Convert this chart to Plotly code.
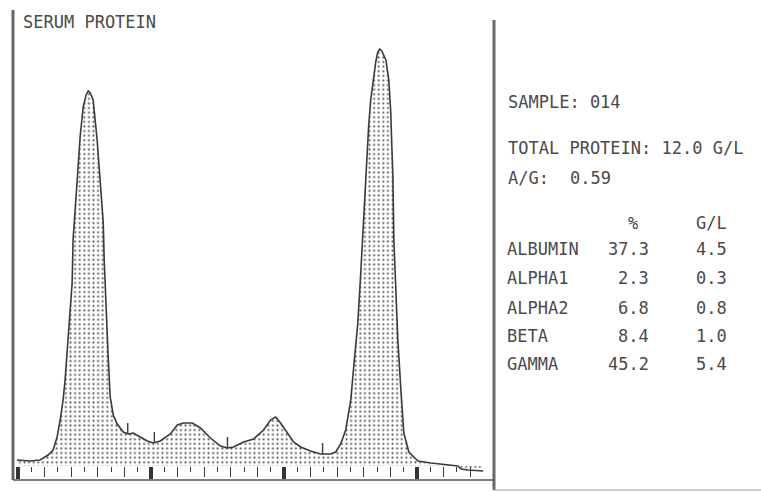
import plotly.graph_objects as go

# Densitometer trace of a serum protein electrophoresis strip.
# mobility: position along the strip in ruler divisions; density: scan height (arbitrary units)
mobility = [-0.08, 0.90, 1.66, 1.88, 2.26, 2.64, 2.94, 3.17, 3.39, 3.54, 3.77, 3.92,
            4.07, 4.14, 4.30, 4.45, 4.67, 4.90, 5.12, 5.28, 5.43, 5.65, 5.95, 6.18,
            6.41, 6.48, 6.56, 6.71, 6.78, 6.93, 7.16, 7.46, 7.91, 8.29, 8.67, 9.19,
            9.72, 10.17, 10.70, 11.45, 11.98, 12.43, 13.11, 13.72, 14.47, 15.22, 15.75,
            16.20, 16.96, 17.71, 18.46, 18.99, 19.37, 19.74, 20.27, 20.72, 21.25, 22.00,
            22.76, 23.51, 23.89, 24.26, 24.64, 25.02, 25.24, 25.55, 25.77, 25.92, 26.07,
            26.22, 26.37, 26.52, 26.68, 26.90, 27.05, 27.20, 27.35, 27.66, 27.88, 28.03,
            28.11, 28.19, 28.26, 28.41, 28.56, 28.79, 29.01, 29.39, 30.07, 31.05, 32.33,
            33.08, 33.31, 33.84, 34.97]
density = [6, 5, 6, 8, 11, 16, 29, 46, 66, 86, 126, 156,
           183, 226, 261, 286, 329, 359, 371, 375, 373, 366, 326, 286,
           243, 206, 176, 136, 109, 69, 51, 42, 34, 32, 33, 29,
           25, 23, 25, 32, 41, 43, 43, 38, 28, 20, 18,
           19, 24, 27, 36, 46, 49, 43, 33, 24, 19, 15,
           12, 12, 14, 22, 36, 66, 99, 143, 193, 231, 271,
           306, 341, 366, 384, 404, 414, 417, 415, 406, 386, 353,
           319, 289, 226, 176, 126, 76, 33, 14, 5, 3, 1,
           0, -3, -4, -5]

# Fraction boundary markers (position, curve level, marker top)
boundary_pos = [8.25, 10.25, 15.75, 22.90]
boundary_base = [32, 23, 18, 12]
boundary_top = [43, 34, 29, 23]

# Ruler divisions under the trace
ruler_minor = list(range(1, 35, 2))
ruler_mid = list(range(0, 35, 2))
ruler_major = [0, 10, 20, 30]

# Report values
sample_id = "014"
total_protein = 12.0
ag_ratio = 0.59
fractions = ["ALBUMIN", "ALPHA1", "ALPHA2", "BETA", "GAMMA"]
percent = [37.3, 2.3, 6.8, 8.4, 45.2]
grams_per_l = [4.5, 0.3, 0.8, 1.0, 5.4]

W, H = 761, 492
INK = "#4a4a4a"
FONT = "DejaVu Sans Mono"


def px(x):
    return x / W


def py(y):
    return 1 - y / H


fig = go.Figure()

fig.add_trace(go.Scatter(
    x=mobility, y=density, mode="lines",
    line=dict(color="#3a3a3a", width=1.6),
    fill="tozeroy",
    fillpattern=dict(shape=".", fgcolor="#5a5a5a", bgcolor="white",
                     size=4.6, solidity=0.16, fillmode="replace"),
    hoverinfo="skip", showlegend=False,
))

bx, by = [], []
for p, b, t in zip(boundary_pos, boundary_base, boundary_top):
    bx += [p, p, None]
    by += [b, t, None]
fig.add_trace(go.Scatter(x=bx, y=by, mode="lines",
                         line=dict(color="#3a3a3a", width=1.4),
                         hoverinfo="skip", showlegend=False))

# empty trace so the overlaid ruler axis is laid out
fig.add_trace(go.Scatter(x=[None], y=[None], xaxis="x2", yaxis="y",
                         mode="lines", hoverinfo="skip", showlegend=False))

common_axis = dict(showgrid=False, zeroline=False, showline=False,
                   showticklabels=False, range=[-0.377, 35.79],
                   domain=[px(13), px(494)], fixedrange=True)

fig.update_layout(
    width=W, height=H,
    margin=dict(l=0, r=0, t=0, b=0),
    paper_bgcolor="white", plot_bgcolor="white",
    xaxis=dict(**common_axis, anchor="free", position=26 / H, side="bottom",
               tickmode="array", tickvals=ruler_mid, ticks="outside",
               ticklen=10, tickwidth=1.4, tickcolor="#3a3a3a",
               minor=dict(tickmode="array", tickvals=ruler_minor, ticks="outside",
                          ticklen=5, tickwidth=1.4, tickcolor="#3a3a3a")),
    xaxis2=dict(**common_axis, overlaying="x", anchor="free", position=26 / H,
                side="bottom", tickmode="array", tickvals=ruler_major,
                ticks="outside", ticklen=12, tickwidth=3.5, tickcolor="#333333"),
    yaxis=dict(range=[-26, 466], domain=[0, 1], visible=False, fixedrange=True),
)

# Frame of the printout
fig.add_shape(type="line", xref="paper", yref="paper",
              x0=px(13), x1=px(13), y0=py(10), y1=py(480),
              line=dict(color="#666666", width=3))
fig.add_shape(type="line", xref="paper", yref="paper",
              x0=px(494), x1=px(494), y0=py(20), y1=py(490),
              line=dict(color="#6a6a6a", width=3))
fig.add_shape(type="line", xref="paper", yref="paper",
              x0=px(13), x1=px(494), y0=py(480), y1=py(480),
              line=dict(color="#555555", width=1.5))
fig.add_shape(type="line", xref="paper", yref="paper",
              x0=px(494), x1=px(761), y0=py(490), y1=py(490),
              line=dict(color="#9a9a9a", width=1))


def label(text, x, y, anchor="left", size=17):
    fig.add_annotation(text=text, x=px(x), y=py(y), xref="paper", yref="paper",
                       xanchor=anchor, yanchor="middle", showarrow=False,
                       font=dict(family=FONT, size=size, color=INK))


label("SERUM PROTEIN", 21, 22)
label(f"SAMPLE: {sample_id}", 506, 102)
label(f"TOTAL PROTEIN: {total_protein:.1f} G/L", 506, 148)
label("A/G:", 506, 178)
label(f"{ag_ratio:.2f}", 568, 178)

label("%", 633, 223, anchor="center")
label("G/L", 694, 223)
row_y = [249, 278, 308, 336, 364]
for name, pct, g, y in zip(fractions, percent, grams_per_l, row_y):
    label(name, 505, y)
    label(f"{pct:.1f}", 651, y, anchor="right")
    label(f"{g:.1f}", 694, y)

fig.write_html("out.html")
